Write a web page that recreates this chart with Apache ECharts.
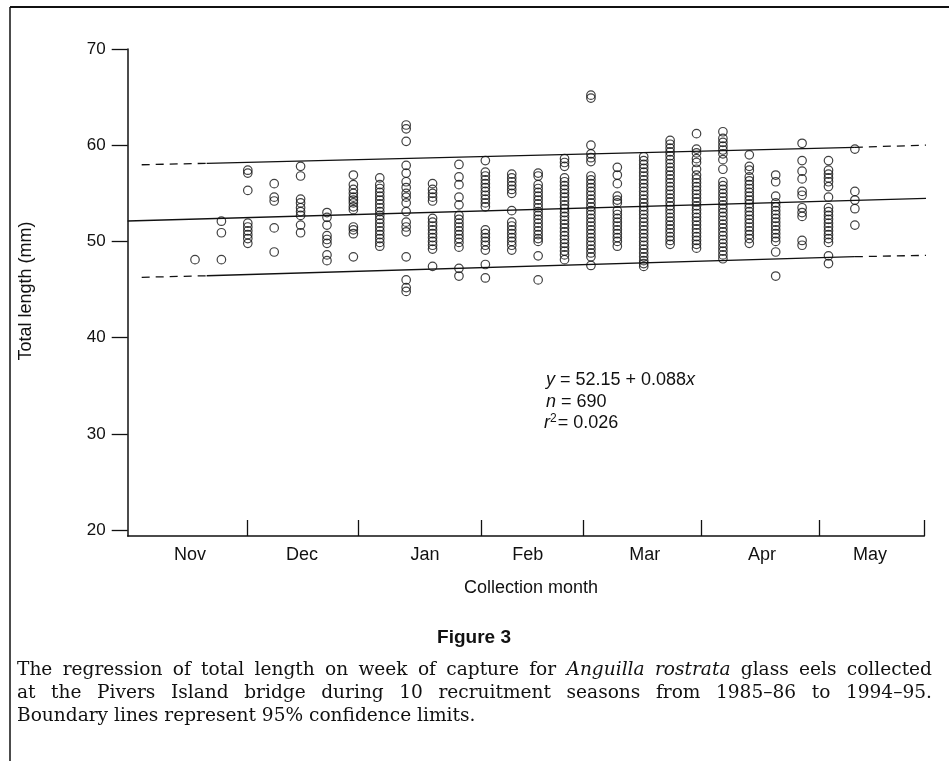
<!DOCTYPE html>
<html>
<head>
<meta charset="utf-8">
<script src="https://cdn.jsdelivr.net/npm/echarts@6/dist/echarts.min.js"></script>
<style>
html, body { margin: 0; background: #fff; }
#main { width: 949px; height: 761px; }
</style>
</head>
<body>
<div id="main"></div>
<script>
// glass eel lengths by week of capture (Figure 3)

// week numbers of the sampled columns
const weeks = [3, 4, 5, 6, 7, 8, 9, 10, 11, 12, 13, 14, 15, 16, 17, 18, 19, 20, 21, 22, 23, 24, 25, 26, 27, 28];

// total length (mm) read per week, same order as weeks
const lengthsByWeek = [
    [48.1],
    [52.1, 50.9, 48.1],
    [57.4, 57.1, 55.3, 51.9, 51.5, 51.1, 50.7, 50.3, 49.8],
    [56.0, 54.6, 54.2, 51.4, 48.9],
    [57.8, 56.8, 54.4, 54.0, 53.5, 53.1, 52.7, 51.7, 50.9],
    [53.0, 52.5, 51.7, 50.6, 50.2, 49.8, 48.6, 48.0],
    [56.9, 55.9, 55.4, 55.0, 54.6, 54.3, 54.0, 53.6, 53.3, 51.5, 51.2, 50.8, 48.4],
    [56.6, 55.9, 55.5, 55.1, 54.7, 54.3, 53.9, 53.5, 53.1, 52.7, 52.3, 51.9, 51.5, 51.1, 50.7, 50.3, 49.9, 49.5],
    [62.1, 61.7, 60.4, 57.9, 57.1, 56.2, 55.6, 55.0, 54.6, 54.0, 53.1, 52.0, 51.5, 51.0, 48.4, 46.0, 45.2, 44.8],
    [56.0, 55.4, 55.0, 54.6, 54.2, 52.4, 52.0, 51.6, 51.2, 50.8, 50.4, 50.0, 49.6, 49.2, 47.4],
    [58.0, 56.7, 55.9, 54.6, 53.8, 52.7, 52.3, 51.9, 51.5, 51.1, 50.7, 50.3, 49.9, 49.4, 47.2, 46.4],
    [58.4, 57.2, 56.8, 56.4, 56.0, 55.6, 55.2, 54.8, 54.4, 54.0, 53.6, 51.2, 50.8, 50.4, 50.0, 49.6, 49.1, 47.6, 46.2],
    [57.0, 56.6, 56.2, 55.8, 55.4, 55.0, 53.2, 52.0, 51.6, 51.2, 50.8, 50.4, 50.0, 49.6, 49.1],
    [57.1, 56.8, 55.9, 55.5, 55.1, 54.7, 54.3, 53.9, 53.5, 53.1, 52.7, 52.3, 51.9, 51.5, 51.1, 50.7, 50.3, 50.0, 48.5, 46.0],
    [58.6, 58.2, 57.8, 56.6, 56.2, 55.8, 55.4, 55.0, 54.6, 54.2, 53.8, 53.4, 53.0, 52.6, 52.2, 51.8, 51.4, 51.0, 50.6, 50.2, 49.8, 49.4, 49.0, 48.6, 48.1],
    [65.2, 64.9, 60.0, 59.1, 58.7, 58.3, 56.8, 56.4, 56.0, 55.6, 55.2, 54.8, 54.4, 54.0, 53.6, 53.2, 52.8, 52.4, 52.0, 51.6, 51.2, 50.8, 50.4, 50.0, 49.6, 49.2, 48.8, 48.4, 47.5],
    [57.7, 56.9, 56.0, 54.7, 54.3, 54.0, 53.2, 52.8, 52.4, 52.0, 51.6, 51.2, 50.8, 50.4, 50.0, 49.5],
    [58.8, 58.4, 58.0, 57.6, 57.2, 56.8, 56.4, 56.0, 55.6, 55.2, 54.8, 54.4, 54.0, 53.6, 53.2, 52.8, 52.4, 52.0, 51.6, 51.2, 50.8, 50.4, 50.0, 49.6, 49.2, 48.8, 48.4, 48.0, 47.7, 47.4],
    [60.5, 60.1, 59.7, 59.3, 58.9, 58.5, 58.1, 57.7, 57.3, 56.9, 56.5, 56.1, 55.7, 55.3, 54.9, 54.5, 54.1, 53.7, 53.3, 52.9, 52.5, 52.1, 51.7, 51.3, 50.9, 50.5, 50.1, 49.7],
    [61.2, 59.6, 59.2, 58.6, 58.2, 57.5, 56.9, 56.5, 56.1, 55.7, 55.3, 54.9, 54.5, 54.1, 53.7, 53.3, 52.9, 52.5, 52.1, 51.7, 51.3, 50.9, 50.5, 50.1, 49.7, 49.3],
    [61.4, 60.7, 60.3, 59.9, 59.5, 59.1, 58.5, 57.5, 56.2, 55.8, 55.4, 55.0, 54.6, 54.2, 53.8, 53.4, 53.0, 52.6, 52.2, 51.8, 51.4, 51.0, 50.6, 50.2, 49.8, 49.4, 49.0, 48.6, 48.2],
    [59.0, 57.8, 57.4, 56.7, 56.3, 55.9, 55.5, 55.1, 54.7, 54.3, 53.9, 53.5, 53.1, 52.7, 52.3, 51.9, 51.5, 51.1, 50.7, 50.3, 49.8],
    [56.9, 56.2, 54.7, 54.0, 53.6, 53.2, 52.8, 52.4, 52.0, 51.6, 51.2, 50.8, 50.4, 50.0, 48.9, 46.4],
    [60.2, 58.4, 57.3, 56.5, 55.2, 54.8, 53.5, 53.0, 52.6, 50.1, 49.6],
    [58.4, 57.4, 57.0, 56.6, 56.2, 55.7, 54.6, 53.5, 53.1, 52.7, 52.3, 51.9, 51.5, 51.1, 50.7, 50.3, 49.9, 48.5, 47.7],
    [59.6, 55.2, 54.3, 53.4, 51.7]
];

// month boundaries (ticks) and label positions, in weeks
const monthEdges = [4.97, 9.19, 13.86, 17.71, 22.18, 26.65, 30.63];
const monthMids = [2.81, 7.05, 11.71, 15.61, 20.04, 24.48, 28.57];
const monthNames = ['Nov', 'Dec', 'Jan', 'Feb', 'Mar', 'Apr', 'May'];

const yTicks = [20, 30, 40, 50, 60, 70];

// regression line and 95% limits, end points
const fitLine = [[0.45, 52.12], [30.9, 54.48]];
const upperSolid = [[3.44, 58.12], [28.0, 59.78]];
const upperDashL = [[0.98, 57.97], [3.44, 58.12]];
const upperDashR = [[28.0, 59.78], [30.84, 60.02]];
const lowerSolid = [[3.44, 46.43], [28.0, 48.41]];
const lowerDashL = [[0.98, 46.27], [3.44, 46.43]];
const lowerDashR = [[28.0, 48.41], [30.84, 48.56]];

const captionLines = [
    'The regression of total length on week of capture for *Anguilla* *rostrata* glass eels collected',
    'at the Pivers Island bridge during 10 recruitment seasons from 1985–86 to 1994–95.',
    'Boundary lines represent 95% confidence limits.'
];

const INK = '#111';
const SANS = '"Liberation Sans", Arial, sans-serif';
const SERIF = '"DejaVu Serif", serif';

let points = [];
weeks.forEach((w, i) => {
    lengthsByWeek[i].forEach(v => points.push([w, v]));
});

function lineSeries(data, dashed) {
    return {
        type: 'line',
        data: data,
        symbol: 'none',
        clip: false,
        silent: true,
        lineStyle: { color: INK, width: 1.3, type: dashed ? [8, 6] : 'solid' },
        z: 3
    };
}

// caption, set word by word so the first two lines are justified
const measure = document.createElement('canvas').getContext('2d');
const CAP_LEFT = 17;
const CAP_RIGHT = 932;
const CAP_LAST_RIGHT = 443; // last (ragged) line ends here

function parseWords(line) {
    return line.split(' ').map(w => ({ t: w.replace(/\*/g, ''), it: w.indexOf('*') === 0 }));
}
function wordWidths(toks, size) {
    return toks.map(k => {
        measure.font = (k.it ? 'italic ' : '') + size + 'px "DejaVu Serif"';
        return measure.measureText(k.t).width;
    });
}
function naturalWidth(line, size) {
    let toks = parseWords(line);
    measure.font = size + 'px "DejaVu Serif"';
    let sp = measure.measureText(' ').width;
    return wordWidths(toks, size).reduce((a, b) => a + b, 0) + sp * (toks.length - 1);
}

// compromise between the tight first line and the ragged last line
let fitFirst = 17 * (CAP_RIGHT - CAP_LEFT) / naturalWidth(captionLines[0], 17);
let fitLast = 17 * (CAP_LAST_RIGHT - CAP_LEFT) / naturalWidth(captionLines[2], 17);
let capSize = Math.max(14, Math.min(21, (fitFirst + fitLast) / 2));

let captionEls = [];
captionLines.forEach((line, li) => {
    let toks = parseWords(line);
    let widths = wordWidths(toks, capSize);
    let total = widths.reduce((a, b) => a + b, 0);
    measure.font = capSize + 'px "DejaVu Serif"';
    let gap = li < captionLines.length - 1
        ? (CAP_RIGHT - CAP_LEFT - total) / (toks.length - 1)
        : measure.measureText(' ').width;
    let x = CAP_LEFT;
    toks.forEach((k, i) => {
        captionEls.push({
            type: 'text', x: x, y: 670 + li * 23,
            style: {
                text: k.t, fill: INK, fontSize: capSize, fontFamily: SERIF,
                fontStyle: k.it ? 'italic' : 'normal', verticalAlign: 'middle'
            }
        });
        x += widths[i] + gap;
    });
});

const chart = echarts.init(document.getElementById('main'), null, { renderer: 'canvas' });

let option = {
    animation: false,
    backgroundColor: '#fff',
    grid: { left: 127.7, right: 24.7, top: 49, bottom: 225 },
    xAxis: {
        type: 'value',
        min: 0.45,
        max: 30.63,
        splitLine: { show: false },
        axisLine: { lineStyle: { color: INK, width: 1.5 } },
        axisTick: {
            customValues: monthEdges,
            inside: true,
            length: 16,
            lineStyle: { color: INK, width: 1.3 }
        },
        axisLabel: {
            customValues: monthMids,
            formatter: v => monthNames[monthMids.indexOf(v)],
            margin: 10,
            fontSize: 18,
            fontFamily: SANS,
            color: INK
        }
    },
    yAxis: {
        type: 'value',
        min: 19.38,
        max: 70,
        splitLine: { show: false },
        axisLine: { show: true, lineStyle: { color: INK, width: 1.5 } },
        axisTick: {
            show: true,
            customValues: yTicks,
            length: 16,
            lineStyle: { color: INK, width: 1.3 }
        },
        axisLabel: {
            customValues: yTicks,
            margin: 22,
            fontSize: 17,
            fontFamily: SANS,
            color: INK
        }
    },
    series: [
        {
            type: 'scatter',
            data: points,
            symbol: 'circle',
            symbolSize: 8.5,
            silent: true,
            itemStyle: { color: 'transparent', borderColor: INK, borderWidth: 1.2 },
            z: 4
        },
        lineSeries(fitLine, false),
        lineSeries(upperSolid, false),
        lineSeries(upperDashL, true),
        lineSeries(upperDashR, true),
        lineSeries(lowerSolid, false),
        lineSeries(lowerDashL, true),
        lineSeries(lowerDashR, true)
    ],
    graphic: [
        // frame
        { type: 'line', shape: { x1: 10, y1: 7, x2: 949, y2: 7 }, style: { stroke: INK, lineWidth: 2 } },
        { type: 'line', shape: { x1: 10, y1: 7, x2: 10, y2: 761 }, style: { stroke: INK, lineWidth: 1.5 } },
        // axis titles
        {
            type: 'text', x: 26, y: 291, rotation: Math.PI / 2,
            style: { text: 'Total length (mm)', fill: INK, fontSize: 18, fontFamily: SANS, align: 'center', verticalAlign: 'middle' }
        },
        {
            type: 'text', x: 531, y: 588,
            style: { text: 'Collection month', fill: INK, fontSize: 18, fontFamily: SANS, align: 'center', verticalAlign: 'middle' }
        },
        // regression statistics
        {
            type: 'text', x: 546, y: 380,
            style: {
                text: '{i|y} = 52.15 + 0.088{i|x}', fill: INK, fontSize: 18, fontFamily: SANS, verticalAlign: 'middle',
                rich: { i: { fontStyle: 'italic', fontSize: 18, fontFamily: SANS } }
            }
        },
        {
            type: 'text', x: 546, y: 402,
            style: {
                text: '{i|n} = 690', fill: INK, fontSize: 18, fontFamily: SANS, verticalAlign: 'middle',
                rich: { i: { fontStyle: 'italic', fontSize: 18, fontFamily: SANS } }
            }
        },
        {
            type: 'text', x: 544, y: 423,
            style: {
                text: '{i|r}{s|2}= 0.026', fill: INK, fontSize: 18, fontFamily: SANS, verticalAlign: 'middle',
                rich: {
                    i: { fontStyle: 'italic', fontSize: 18, fontFamily: SANS },
                    s: { fontSize: 12, fontFamily: SANS, verticalAlign: 'top', padding: [0, 1, 8, 0] }
                }
            }
        },
        // figure label
        {
            type: 'text', x: 474, y: 638,
            style: { text: 'Figure 3', fill: INK, fontSize: 19, fontWeight: 'bold', fontFamily: SANS, align: 'center', verticalAlign: 'middle' }
        }
    ].concat(captionEls)
};

chart.setOption(option);
</script>
</body>
</html>
